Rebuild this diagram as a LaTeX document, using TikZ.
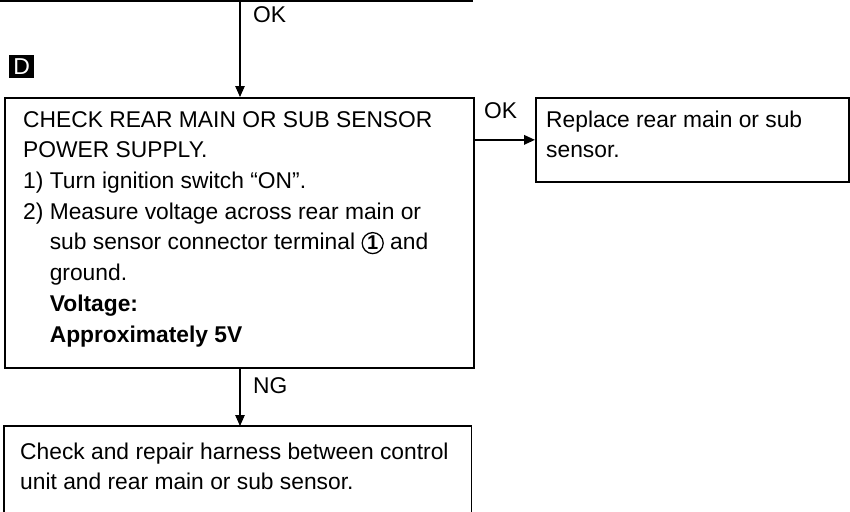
\documentclass[tikz,border=0pt]{standalone}
\usepackage{fontspec}
\setmainfont{Liberation Sans}
\usetikzlibrary{arrows.meta}
\newcommand{\circnum}[1]{\tikz[baseline=(cn.base)]\node[circle,draw,line width=1.3pt,inner sep=0.5pt,minimum size=21pt,font=\fontsize{20}{20}\selectfont\bfseries] (cn) {#1};}
\newcommand{\myindent}{\hspace*{26.6pt}}
\begin{document}
\begin{tikzpicture}[x=1pt,y=-1pt,
  box/.style={draw, line width=1.7pt, inner sep=0pt},
  txt/.style={anchor=north west, inner sep=0pt, align=left, font=\fontsize{22.8}{30.7}\selectfont},
  conn/.style={line width=1.1pt, -{Triangle[length=11pt,width=9.5pt]}},
  hconn/.style={line width=1.8pt, -{Triangle[length=11pt,width=9.5pt]}},
  lbl/.style={font=\fontsize{22.8}{22.8}\selectfont, inner sep=0pt, anchor=base west},
  dmark/.style={fill=black, text=white, inner sep=0pt, minimum width=25pt, minimum height=23pt, anchor=north west, font=\fontsize{23}{23}\selectfont}
]
\useasboundingbox (0,0) rectangle (850,511);
% boxes
\node[box, anchor=north west, minimum width=469pt, minimum height=270pt] (main) at (4,97) {};
\node[box, anchor=north west, minimum width=313pt, minimum height=84pt] (repl) at (535,97) {};
\node[anchor=north west, inner sep=0pt, minimum width=467pt, minimum height=86pt] (rep) at (4,426) {};
\draw[line width=1.7pt] (rep.south west) |- (rep.north east) -- (rep.south east);
% previous box bottom edge
\coordinate (prevl) at (0,1);
\coordinate (prevr) at (473,1);
\coordinate (topin) at (240,1);
\draw[line width=1.7pt] (prevl) -- (prevr);
% marker
\node[dmark] (D) at (9,55) {D};
% texts
\node[txt] (maintxt) at (23,105.5) {\strut CHECK REAR MAIN OR SUB SENSOR\\
POWER SUPPLY.\\
1) Turn ignition switch “ON”.\\
2) Measure voltage across rear main or\\
\myindent sub sensor connector terminal \circnum{1} and\\
\myindent ground.\\
\myindent\textbf{Voltage:}\\
\myindent\textbf{Approximately 5V}};
\node[txt] (repltxt) at (546,105.5) {\strut Replace rear main or sub\\sensor.};
\node[txt] (reptxt) at (20,437.5) {\strut Check and repair harness between control\\unit and rear main or sub sensor.};
% connectors
\draw[conn] (topin) -- (topin |- main.north);
\draw[hconn] (repl.west -| main.east) -- (repl.west);
\draw[conn] (main.south -| topin) -- (rep.north -| topin);
% labels
\node[lbl] (ok1) at (253,23) {OK};
\node[lbl] (ok2) at (484,118) {OK};
\node[lbl] (ng) at (253,393) {NG};
\end{tikzpicture}
\end{document}
